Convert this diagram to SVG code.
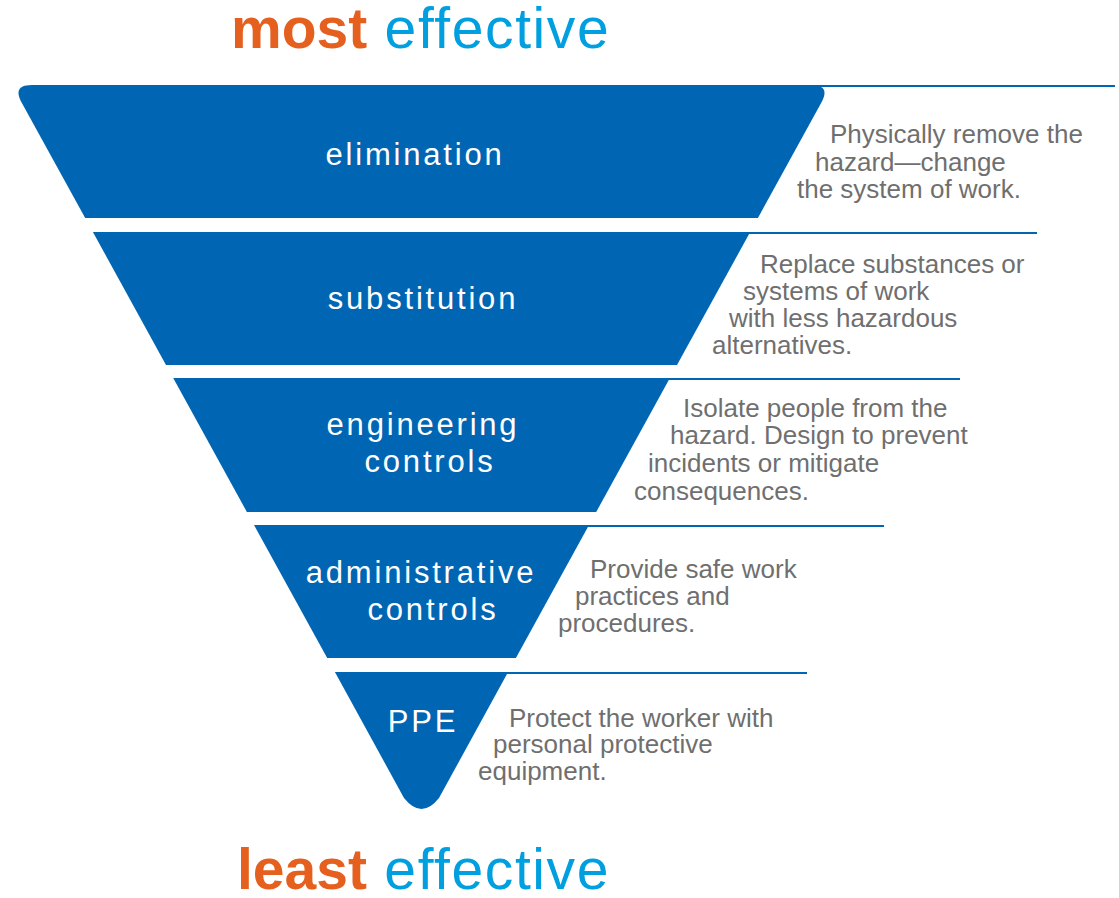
<svg xmlns="http://www.w3.org/2000/svg" width="1119" height="898" viewBox="0 0 1119 898">
<style>
.band{fill:#0066B3}
.rule{stroke:#0066B3;stroke-width:2;fill:none}
.lbl{font-family:"Liberation Sans",Arial,sans-serif;font-size:31px;fill:#FFFFFF;text-anchor:middle;letter-spacing:2.8px}
.desc{font-family:"Liberation Sans",Arial,sans-serif;font-size:26px;fill:#6F6F6F}
.ttl{font-family:"Liberation Sans",Arial,sans-serif;font-size:57px}
.or{fill:#E5601F;font-weight:bold}
.cy{fill:#009FDF;letter-spacing:1.6px}
</style>
<rect width="1119" height="898" fill="#FFFFFF"/>
<g id="titles">
<text class="ttl" x="231" y="48"><tspan class="or">most</tspan><tspan class="cy"> effective</tspan></text>
<text class="ttl" x="237" y="889"><tspan class="or">least</tspan><tspan class="cy"> effective</tspan></text>
</g>
<g id="connectors">
<line class="rule" x1="805" y1="86" x2="1115" y2="86"/>
<line class="rule" x1="740" y1="233" x2="1037" y2="233"/>
<line class="rule" x1="660" y1="379" x2="960" y2="379"/>
<line class="rule" x1="580" y1="526" x2="884" y2="526"/>
<line class="rule" x1="500" y1="673" x2="807" y2="673"/>
</g>
<g id="elimination">
<path class="band" d="M32,85 L811,85 Q831,85 821.4,102.5 L757.9,218 L85.2,218 L21.6,102.5 Q12,85 32,85 Z"/>
<text class="lbl" x="415" y="165">elimination</text>
<text class="desc" x="830" y="143">Physically remove the</text>
<text class="desc" x="815" y="171">hazard—change</text>
<text class="desc" x="797" y="198">the system of work.</text>
</g>
<g id="substitution">
<path class="band" d="M92.9,232 L750.2,232 L677,365 L166,365 Z"/>
<text class="lbl" x="423" y="309">substitution</text>
<text class="desc" x="760" y="273">Replace substances or</text>
<text class="desc" x="743" y="300">systems of work</text>
<text class="desc" x="729" y="327">with less hazardous</text>
<text class="desc" x="712" y="354">alternatives.</text>
</g>
<g id="engineering">
<path class="band" d="M173.2,378 L669.9,378 L596.2,512 L246.9,512 Z"/>
<text class="lbl" x="423" y="435">engineering</text>
<text class="lbl" x="430" y="472">controls</text>
<text class="desc" x="683" y="417">Isolate people from the</text>
<text class="desc" x="670" y="444">hazard. Design to prevent</text>
<text class="desc" x="648" y="472">incidents or mitigate</text>
<text class="desc" x="634" y="500">consequences.</text>
</g>
<g id="administrative">
<path class="band" d="M254,525 L589,525 L515.9,658 L327.2,658 Z"/>
<text class="lbl" x="421" y="583">administrative</text>
<text class="lbl" x="433" y="620">controls</text>
<text class="desc" x="590" y="578">Provide safe work</text>
<text class="desc" x="575" y="605">practices and</text>
<text class="desc" x="558" y="632">procedures.</text>
</g>
<g id="ppe">
<path class="band" d="M334.9,672 L508.1,672 L439,798 Q421.5,820 404,798 Z"/>
<text class="lbl" x="423" y="732">PPE</text>
<text class="desc" x="509" y="727">Protect the worker with</text>
<text class="desc" x="493" y="753">personal protective</text>
<text class="desc" x="478" y="780">equipment.</text>
</g>
</svg>
